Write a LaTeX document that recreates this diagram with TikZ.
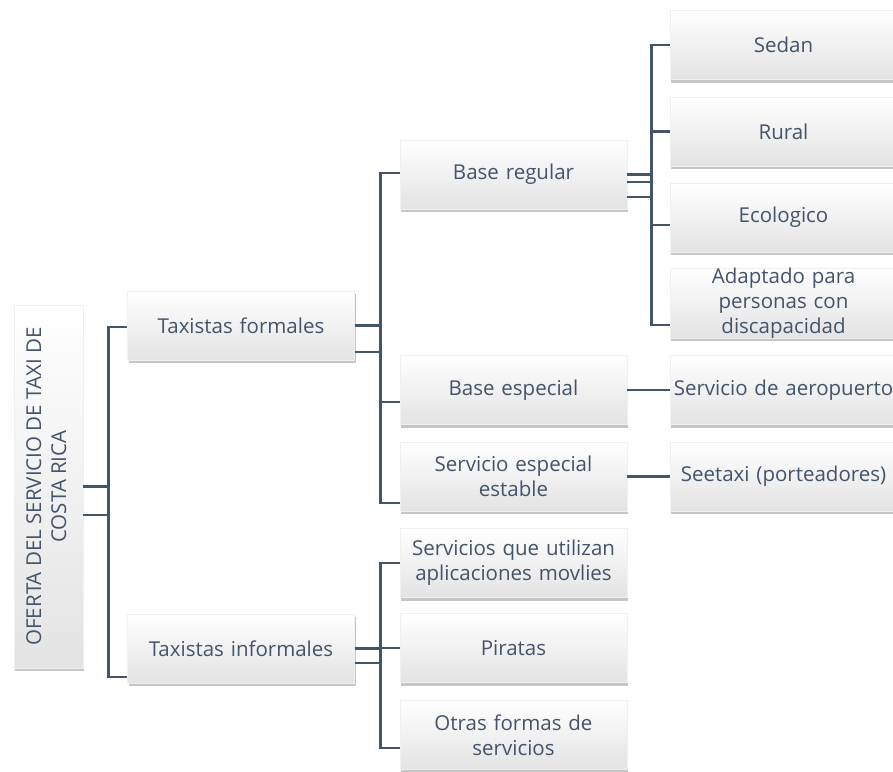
\documentclass[tikz,border=0pt]{standalone}
\usepackage{fontspec}
\setmainfont{Open Sans}
\usepackage{graphicx}
\usetikzlibrary{calc,shadows}
\definecolor{slate}{HTML}{44546A}

\begin{document}
\begin{tikzpicture}[x=1pt, y=-1pt,
    cell/.style={draw=gray!12, top color=white, bottom color=gray!22,
        drop shadow={opacity=0.45, shadow xshift=1pt, shadow yshift=-3pt},
        inner sep=0pt, text=slate, font=\fontsize{20.5}{25}\selectfont},
    box/.style={cell, minimum width=227pt, minimum height=69pt, text width=225pt, align=center},
    link/.style={draw=slate, line width=2.8pt}]
    \useasboundingbox (0,0) rectangle (893,771);
    % root
    \node[cell, minimum width=69pt, minimum height=363pt](root)at(48.5,486.5)
        {\rotatebox{90}{\begin{tabular}{@{}c@{}}OFERTA DEL SERVICIO DE TAXI DE\\COSTA RICA\end{tabular}}};
    % level 1
    \node[box](formal)at(241,325.5){Taxistas formales};
    \node[box](informal)at(241,648.5){Taxistas informales};
    % level 2
    \node[box](bregular)at(513.5,174.5){Base regular};
    \node[box](bespecial)at(513.5,390){Base especial};
    \node[box](sestable)at(513.5,476.5){Servicio especial\\estable};
    \node[box](apps)at(513.5,563){Servicios que utilizan\\aplicaciones movlies};
    \node[box](piratas)at(513.5,648){Piratas};
    \node[box](otras)at(513.5,735){Otras formas de\\servicios};
    % level 3
    \node[box](sedan)at(783.5,45){Sedan};
    \node[box](rural)at(783.5,131.5){Rural};
    \node[box](eco)at(783.5,217.5){Ecologico};
    \node[box](adapt)at(783.5,303){Adaptado para\\personas con\\discapacidad};
    \node[box](aero)at(783.5,390){Servicio de aeropuerto};
    \node[box](seetaxi)at(783.5,476.5){Seetaxi (porteadores)};
    % root to level 1
    \foreach \c/\d in {formal/1.5, informal/28.5}
        \draw[link](root.east) -| ($(\c.west)+(-19,\d)$) -- ($(\c.west)+(0,\d)$);
    \draw[link]($(root.east)+(0,28.5)$) -| ($(informal.west)+(-19,28.5)$);
    % formales
    \foreach \c/\d in {bregular/-1.5, bespecial/12, sestable/26.5}
        \draw[link](formal.east) -| ($(\c.west)+(-19,\d)$) -- ($(\c.west)+(0,\d)$);
    \draw[link]($(formal.east)+(0,26.5)$) -| ($(sestable.west)+(-19,26.5)$);
    % informales
    \foreach \c/\d in {apps/0, piratas/0, otras/13}
        \draw[link](informal.east) -| ($(\c.west)+(-19,\d)$) -- ($(\c.west)+(0,\d)$);
    \draw[link]($(informal.east)+(0,14.5)$) -| ($(otras.west)+(-19,13)$);
    % base regular
    \foreach \c/\d in {sedan/0, rural/0, eco/7.5, adapt/22}
        \draw[link](bregular.east) -| ($(\c.west)+(-18,\d)$) -- ($(\c.west)+(0,\d)$);
    \draw[link]($(bregular.east)+(0,7.5)$) -| ($(eco.west)+(-18,7.5)$);
    \draw[link]($(bregular.east)+(0,22.5)$) -| ($(adapt.west)+(-18,22)$);
    % single children
    \draw[link](bespecial.east) -- (aero.west);
    \draw[link](sestable.east) -- (seetaxi.west);
\end{tikzpicture}
\end{document}
